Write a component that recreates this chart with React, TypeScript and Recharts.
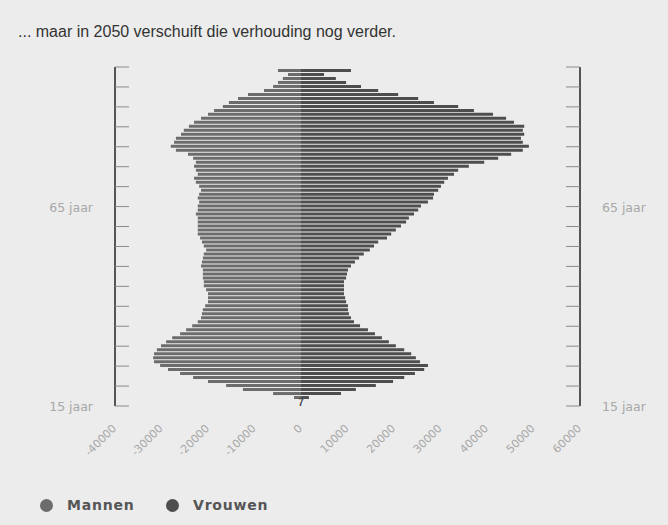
import { BarChart, Bar, XAxis, YAxis, Legend, ReferenceDot } from "recharts";

// leeftijd per jaar, 2050
const ages = [
  17, 18, 19, 20, 21, 22, 23, 24, 25, 26, 27, 28, 29, 30, 31, 32, 33, 34, 35, 36,
  37, 38, 39, 40, 41, 42, 43, 44, 45, 46, 47, 48, 49, 50, 51, 52, 53, 54, 55, 56,
  57, 58, 59, 60, 61, 62, 63, 64, 65, 66, 67, 68, 69, 70, 71, 72, 73, 74, 75, 76,
  77, 78, 79, 80, 81, 82, 83, 84, 85, 86, 87, 88, 89, 90, 91, 92, 93, 94, 95, 96,
  97, 98, 99,
];

const men = [
  -1500, -6000, -12500, -16100, -20000, -23200, -26000, -28600, -30300, -31600,
  -31800, -31600, -31000, -30100, -29000, -27700, -26000, -24700, -23400, -22200,
  -21500, -21300, -21100, -20600, -20000, -20000, -20000, -20400, -20900, -20900,
  -21100, -21100, -21100, -21500, -21300, -21100, -20900, -20400, -20900, -21300,
  -21700, -22200, -22200, -22200, -22200, -22200, -22600, -22200, -22200, -21900,
  -22200, -21900, -21500, -21900, -22600, -23000, -22200, -22600, -23000, -22600,
  -23200, -24300, -26900, -28000, -27300, -26900, -25800, -25200, -24100, -23000,
  -21500, -20000, -18700, -16800, -15500, -13550, -11400, -7950, -6000, -4950,
  -3900, -2800, -4950,
];

const women = [
  1700, 8600, 11800, 16100, 19800, 22200, 24500, 26500, 27300, 25600,
  24700, 23700, 22200, 20400, 18900, 17400, 15900, 14400, 12700, 11400,
  10750, 10300, 10100, 10100, 9700, 9500, 9250, 9250, 9250, 9250,
  9700, 9900, 10100, 10750, 11600, 12500, 13500, 14800, 15700, 16600,
  18500, 19400, 20400, 21500, 22600, 23200, 24300, 25200, 25800, 27300,
  28400, 28600, 29500, 30100, 30800, 31600, 32900, 33800, 36100, 39400,
  42400, 45200, 47700, 49000, 47700, 47300, 48000, 47700, 48000, 45800,
  44100, 41300, 37200, 33800, 28600, 25200, 20900, 16600, 12900, 9700,
  7500, 4950, 10750,
];

const xTicks = [-40000, -30000, -20000, -10000, 0, 10000, 20000, 30000, 40000, 50000, 60000];
const ageTicks = [15, 20, 25, 30, 35, 40, 45, 50, 55, 60, 65, 70, 75, 80, 85, 90, 95, 100];
const ageLabels: Record<number, string> = { 65: "65 jaar", 15: "15 jaar" };

const data = ages.map((age, i) => ({ age, men: men[i], women: women[i] }));

const labelGrey = "#a8a8a8";
const axisFont = "DejaVu Sans, Verdana, sans-serif";

const LeftTick = ({ x, y, payload }: any) => (
  <g>
    <line x1={x} x2={x + 14} y1={y} y2={y} stroke="#8a8a8a" />
    {ageLabels[payload.value] && (
      <text x={x - 22} y={y} dy={5} textAnchor="end" fill={labelGrey} fontSize={12.5} fontFamily={axisFont}>
        {ageLabels[payload.value]}
      </text>
    )}
  </g>
);

const RightTick = ({ x, y, payload }: any) => (
  <g>
    <line x1={x - 14} x2={x} y1={y} y2={y} stroke="#8a8a8a" />
    {ageLabels[payload.value] && (
      <text x={x + 22} y={y} dy={5} textAnchor="start" fill={labelGrey} fontSize={12.5} fontFamily={axisFont}>
        {ageLabels[payload.value]}
      </text>
    )}
  </g>
);

const XTick = ({ x, y, payload }: any) => {
  const ty = y + 23;
  return (
    <text
      x={x + 2}
      y={ty}
      transform={`rotate(-45 ${x + 2} ${ty})`}
      textAnchor="end"
      fill={labelGrey}
      fontSize={11}
      fontFamily={axisFont}
    >
      {payload.value}
    </text>
  );
};

const renderLegend = ({ payload }: any) => (
  <div style={{ display: "flex" }}>
    {payload.map((e: any) => (
      <div key={e.value} style={{ display: "flex", alignItems: "center", width: 126 }}>
        <span
          style={{
            width: 13,
            height: 13,
            borderRadius: "50%",
            background: e.color,
            display: "inline-block",
            marginRight: 14,
          }}
        />
        <span
          style={{
            fontFamily: "DejaVu Sans, Verdana, sans-serif",
            fontWeight: "bold",
            fontSize: 14,
            letterSpacing: 0.8,
            color: "#555",
          }}
        >
          {e.value}
        </span>
      </div>
    ))}
  </div>
);

export default function App() {
  return (
    <div
      style={{
        position: "absolute",
        left: 0,
        top: 0,
        width: 668,
        height: 525,
        background: "#ececec",
        fontFamily: "Liberation Sans, Arial, sans-serif",
      }}
    >
      <div style={{ position: "absolute", left: 18, top: 23, fontSize: 16, color: "#333" }}>
        ... maar in 2050 verschuift die verhouding nog verder.
      </div>
      <BarChart
        width={668}
        height={525}
        data={data}
        layout="vertical"
        stackOffset="sign"
        margin={{ top: 67, right: 0, bottom: 0, left: 0 }}
      >
        <XAxis
          type="number"
          domain={[-40000, 60000]}
          ticks={xTicks}
          interval={0}
          axisLine={false}
          tickLine={false}
          tickSize={0}
          tickMargin={0}
          height={119}
          tick={XTick}
        />
        <YAxis
          yAxisId="l"
          type="number"
          dataKey="age"
          domain={[15, 100]}
          ticks={ageTicks}
          interval={0}
          reversed
          width={115}
          axisLine={{ stroke: "#555", strokeWidth: 2 }}
          tickLine={false}
          tickSize={0}
          tickMargin={0}
          tick={LeftTick}
        />
        <YAxis
          yAxisId="r"
          orientation="right"
          type="number"
          dataKey="age"
          domain={[15, 100]}
          ticks={ageTicks}
          interval={0}
          reversed
          width={88}
          axisLine={{ stroke: "#555", strokeWidth: 2 }}
          tickLine={false}
          tickSize={0}
          tickMargin={0}
          tick={RightTick}
        />
        <Bar yAxisId="l" dataKey="men" name="Mannen" stackId="a" fill="#6c6c6c" barSize={3} isAnimationActive={false} />
        <Bar yAxisId="l" dataKey="women" name="Vrouwen" stackId="a" fill="#4e4e4e" barSize={3} isAnimationActive={false} />
        <ReferenceDot
          yAxisId="l"
          x={0}
          y={16}
          r={0}
          label={{ value: "7", fill: "#444", fontSize: 10, fontWeight: "bold", position: "center" }}
        />
        <Legend
          layout="horizontal"
          verticalAlign="middle"
          align="center"
          content={renderLegend}
          wrapperStyle={{ left: 40, top: 497, width: 300 }}
        />
      </BarChart>
    </div>
  );
}
